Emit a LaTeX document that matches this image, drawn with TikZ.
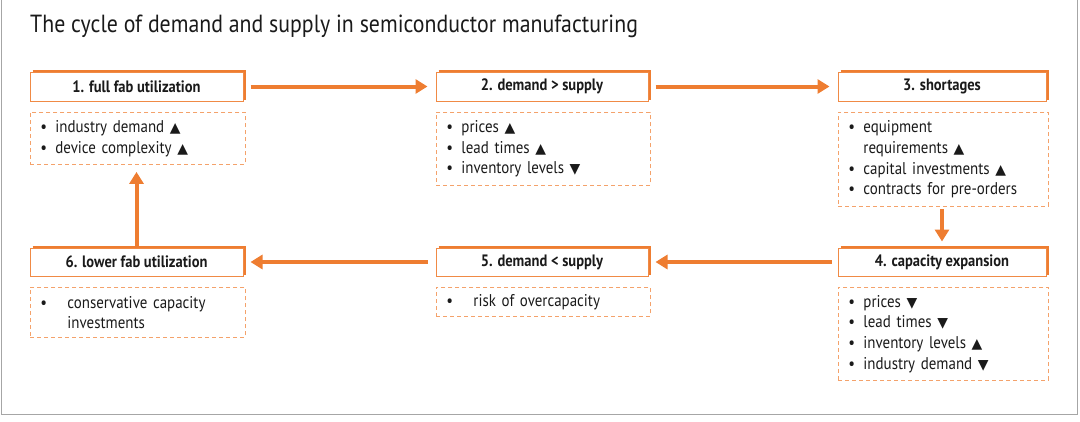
\documentclass[tikz,border=0pt]{standalone}
\usepackage{fontspec}
\setmainfont{PT Sans}[FakeStretch=0.88]
\newfontfamily\trifont{DejaVu Sans}[Scale=0.82]
\usetikzlibrary{arrows.meta}
\definecolor{arrorange}{HTML}{EE7D31}
\definecolor{boxorange}{HTML}{F08A45}
\definecolor{dashorange}{HTML}{F4A26B}
\definecolor{framegray}{HTML}{A6A6A6}
\definecolor{txt}{HTML}{1A1A1A}
\newcommand\upt{{\trifont ▲}}
\newcommand\dnt{{\trifont ▼}}
\newcommand\bl[1][15pt]{\makebox[#1][l]{\textbullet}}
\tikzset{
  x=1pt, y=-1pt,
  hdr/.style={draw=boxorange, line width=1pt, fill=white, minimum height=29pt,
    inner sep=0pt, font=\fontsize{16.5}{18}\selectfont\bfseries, text=txt},
  hshadow/.style={draw=arrorange, line width=2.2pt},
  detail/.style={draw=dashorange, line width=0.9pt, dash pattern=on 4pt off 3pt,
    anchor=north west, align=left, inner xsep=10pt, inner ysep=0pt,
    font=\fontsize{17}{20.6}\selectfont, text=txt},
  flow/.style={draw=arrorange, line width=4pt,
    -{Triangle[length=12pt,width=14pt]}},
}
\begin{document}
\begin{tikzpicture}
\useasboundingbox (0,0) rectangle (1080,421);
\draw[framegray, line width=1pt] (1,0) -- (1,414) -- (1077,414) -- (1077,0);
\node[anchor=base west, font=\fontsize{24.8}{28}\selectfont, text=txt, inner sep=0pt] (title) at (30,32)
  {The cycle of demand and supply in semiconductor manufacturing};

% header shadows
\foreach \l/\t/\r/\b in {30/72/243/101, 436/72/648/101, 838/72/1046/101,
                         30/248/243/276, 436/248/648/276, 838/248/1046/276}
  \draw[hshadow] (\l+2.5,\t-1) -- (\r+1.5,\t-1) -- (\r+1.5,\b-1.5);

% headers
\node[hdr, minimum width=213pt] (h1) at (136.5,86.5) {1. full fab utilization};
\node[hdr, minimum width=212pt] (h2) at (542,86.5) {2. demand > supply};
\node[hdr, minimum width=208pt] (h3) at (942,86.5) {3. shortages};
\node[hdr, minimum width=208pt, minimum height=28pt] (h4) at (942,262) {4. capacity expansion};
\node[hdr, minimum width=212pt, minimum height=28pt] (h5) at (542,262) {5. demand < supply};
\node[hdr, minimum width=213pt, minimum height=28pt] (h6) at (136.5,262) {6. lower fab utilization};

% detail boxes
\node[detail, text width=195pt, minimum height=52pt] (d1) at (30,112)
  {\bl industry demand \upt\\ \bl device complexity \upt};
\node[detail, text width=194pt, minimum height=73pt] (d2) at (436,112)
  {\bl prices \upt\\ \bl lead times \upt\\ \bl inventory levels \dnt};
\node[detail, text width=190pt, minimum height=94pt] (d3) at (838,112)
  {\bl equipment\\ \hspace*{15pt}requirements \upt\\ \bl capital investments \upt\\ \bl contracts for pre-orders};
\node[detail, text width=190pt, minimum height=93pt] (d4) at (838,287)
  {\bl prices \dnt\\ \bl lead times \dnt\\ \bl inventory levels \upt\\ \bl industry demand \dnt};
\node[detail, text width=194pt, minimum height=29pt] (d5) at (436,287)
  {\bl[27pt]risk of overcapacity};
\node[detail, text width=195pt, minimum height=50pt] (d6) at (30,287)
  {\bl[27pt]conservative capacity\\ \hspace*{27pt}investments};

% connectors
\draw[flow, shorten <=7pt, shorten >=8pt] (h1.east) -- (h2.west);
\draw[flow, shorten <=7pt, shorten >=8pt] (h2.east) -- (h3.west);
\draw[flow, shorten <=2pt, shorten >=6pt] (h4.north |- d3.south) -- (h4.north);
\draw[flow, shorten <=6pt, shorten >=7pt] (h4.west) -- (h5.east);
\draw[flow, shorten <=8pt, shorten >=7pt] (h5.west) -- (h6.east);
\draw[flow, shorten <=0pt, shorten >=7pt] (h6.north) -- (h6.north |- d1.south);
\end{tikzpicture}
\end{document}
